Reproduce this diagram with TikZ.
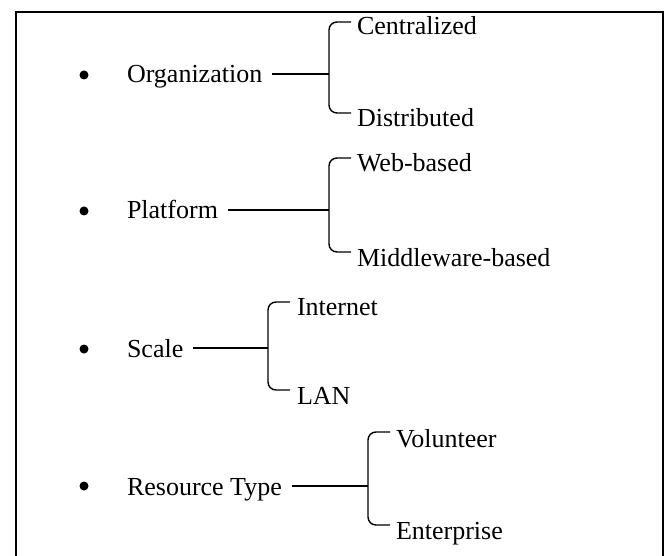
\documentclass[tikz,border=0pt]{standalone}
\usepackage{fontspec}
\setmainfont{Liberation Serif}
\begin{document}
\begin{tikzpicture}[x=1pt,y=-1pt,
  lbl/.style={inner sep=0pt,outer sep=0pt,anchor=base west,font=\fontsize{26}{30}\selectfont},
  conn/.style={line width=1.4pt},
  brace/.style={line width=1.4pt,rounded corners=8pt},
  bul/.style={circle,fill=black,inner sep=0pt,minimum size=9pt}]
\useasboundingbox (0,0) rectangle (667,556);
\draw[line width=2pt] (16,570) -- (16,12) -- (663,12) -- (663,570);

% Group 1
\node[bul] (u1) at (84,75) {};
\node[lbl] (org) at (127,83) {Organization};
\coordinate (b1) at (329,74);
\coordinate (t1) at (351,22);
\coordinate (d1) at (351,113);
\node[lbl] (cen) at (357,35) {Centralized};
\node[lbl] (dis) at (357,127) {Distributed};
\draw[conn,shorten <=10pt] (org.east |- b1) -- (b1);
\draw[brace] (t1) -- (t1 -| b1) -- (d1 -| b1) -- (d1);

% Group 2
\node[bul] (u2) at (84,211) {};
\node[lbl] (pla) at (127,219) {Platform};
\coordinate (b2) at (329,210);
\coordinate (t2) at (351,158);
\coordinate (d2) at (351,252);
\node[lbl] (web) at (357,172) {Web-based};
\node[lbl] (mid) at (357,266) {Middleware-based};
\draw[conn,shorten <=10pt] (pla.east |- b2) -- (b2);
\draw[brace] (t2) -- (t2 -| b2) -- (d2 -| b2) -- (d2);

% Group 3
\node[bul] (u3) at (84,349) {};
\node[lbl] (sca) at (127,357) {Scale};
\coordinate (b3) at (268,348);
\coordinate (t3) at (290,302);
\coordinate (d3) at (290,390);
\node[lbl] (int) at (297,316) {Internet};
\node[lbl] (lan) at (297,404) {LAN};
\draw[conn,shorten <=10pt] (sca.east |- b3) -- (b3);
\draw[brace] (t3) -- (t3 -| b3) -- (d3 -| b3) -- (d3);

% Group 4
\node[bul] (u4) at (84,486) {};
\node[lbl] (res) at (127,495) {Resource Type};
\coordinate (b4) at (368,486);
\coordinate (t4) at (390,432);
\coordinate (d4) at (390,525);
\node[lbl] (vol) at (396,447) {Volunteer};
\node[lbl] (ent) at (396,539) {Enterprise};
\draw[conn,shorten <=10pt] (res.east |- b4) -- (b4);
\draw[brace] (t4) -- (t4 -| b4) -- (d4 -| b4) -- (d4);
\end{tikzpicture}
\end{document}
